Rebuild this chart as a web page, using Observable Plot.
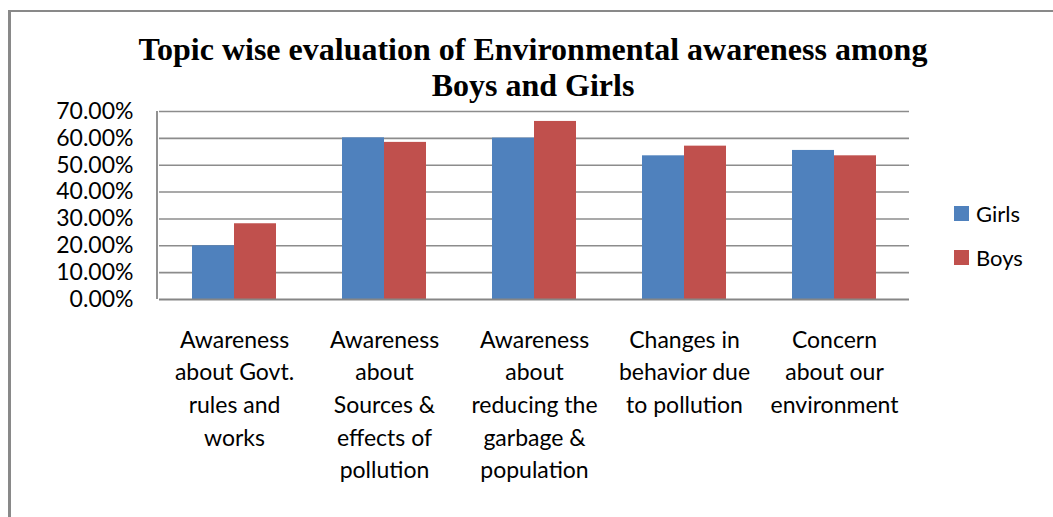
<!DOCTYPE html>
<html>
<head>
<meta charset="utf-8">
<script src="https://cdn.jsdelivr.net/npm/d3@7"></script>
<script src="https://cdn.jsdelivr.net/npm/@observablehq/plot@0.6"></script>
<style>
  html, body { margin: 0; padding: 0; background: #fff; }
  #wrap { position: relative; width: 1053px; height: 517px; overflow: hidden; font-family: Lato, "Open Sans", sans-serif; }
  #bord-top { position: absolute; left: 8px; top: 10px; width: 1045px; height: 2px; background: #898989; }
  #bord-left { position: absolute; left: 8px; top: 10px; width: 2.5px; height: 507px; background: #898989; }
  #title { position: absolute; left: 0; top: 31px; width: 1066px; text-align: center;
           font-family: "Liberation Serif", "Times New Roman", serif; font-weight: bold;
           font-size: 32px; line-height: 36px; color: #000; }
  #chart { position: absolute; left: 0; top: 90px; }
  #legend { position: absolute; left: 954px; top: 198px; font-size: 22px; color: #000; }
  .li { display: flex; align-items: center; height: 30px; margin-bottom: 14px; }
  .sw { width: 15px; height: 15px; margin-right: 7px; }
</style>
</head>
<body>
<div id="wrap">
  <div id="bord-top"></div>
  <div id="bord-left"></div>
  <div id="title">Topic wise evaluation of Environmental awareness among<br>Boys and Girls</div>
  <div id="chart"></div>
  <div id="legend"></div>
</div>
<script>
const categories = [
  "Awareness about Govt. rules and works",
  "Awareness about Sources & effects of pollution",
  "Awareness about reducing the garbage & population",
  "Changes in behavior due to pollution",
  "Concern about our environment"
];
const categoryLabels = [
  "Awareness\nabout Govt.\nrules and\nworks",
  "Awareness\nabout\nSources &\neffects of\npollution",
  "Awareness\nabout\nreducing the\ngarbage &\npopulation",
  "Changes in\nbehavior due\nto pollution",
  "Concern\nabout our\nenvironment"
];
const series = ["Girls", "Boys"];
const girls = [0.200, 0.602, 0.601, 0.535, 0.555];
const boys  = [0.282, 0.585, 0.663, 0.571, 0.535];
const yTicks = [0, 0.1, 0.2, 0.3, 0.4, 0.5, 0.6, 0.7];
const colors = ["#4F81BD", "#C0504D"];

const rows = [];
categories.forEach((c, i) => {
  rows.push({category: c, series: "Girls", value: girls[i]});
  rows.push({category: c, series: "Boys", value: boys[i]});
});
const labelOf = new Map(categories.map((c, i) => [c, categoryLabels[i]]));

const chart = Plot.plot({
  width: 1053,
  height: 427,
  marginTop: 21,
  marginBottom: 218,
  marginLeft: 157,
  marginRight: 143,
  style: {fontFamily: "Lato, 'Open Sans', sans-serif", fontSize: "22px", color: "#000", background: "transparent"},
  fx: {domain: categories, padding: 0, label: null},
  x: {domain: series, paddingInner: 0, paddingOuter: 0.75, axis: null},
  y: {domain: [0, 0.7], axis: null},
  color: {domain: series, range: colors},
  marks: [
    Plot.ruleY(yTicks.filter(t => t > 0), {stroke: "#8c8c8c", strokeWidth: 1.6}),
    Plot.barY(rows, {fx: "category", x: "series", y: "value", fill: "series"}),
    Plot.ruleY([0], {stroke: "#868686", strokeWidth: 1.8}),
    Plot.axisY(yTicks, {tickSize: 0, tickPadding: 26, tickFormat: d => (d * 100).toFixed(2) + "%", label: null, fontSize: 23, fill: "#000"}),
    Plot.axisFx({anchor: "bottom", tickSize: 0, tickPadding: 25, tickFormat: d => labelOf.get(d), label: null, lineHeight: 1.42, fontSize: 23, fill: "#000"})
  ]
});
document.getElementById("chart").appendChild(chart);

// left axis line of the plot area
const svg = d3.select(chart);
svg.append("line")
  .attr("x1", 157).attr("x2", 157).attr("y1", 21).attr("y2", 209)
  .attr("stroke", "#868686").attr("stroke-width", 1.8);

const legend = document.getElementById("legend");
series.forEach((s, i) => {
  const row = document.createElement("div");
  row.className = "li";
  const sw = document.createElement("div");
  sw.className = "sw";
  sw.style.background = colors[i];
  const t = document.createElement("span");
  t.textContent = s;
  row.appendChild(sw);
  row.appendChild(t);
  legend.appendChild(row);
});
</script>
</body>
</html>
